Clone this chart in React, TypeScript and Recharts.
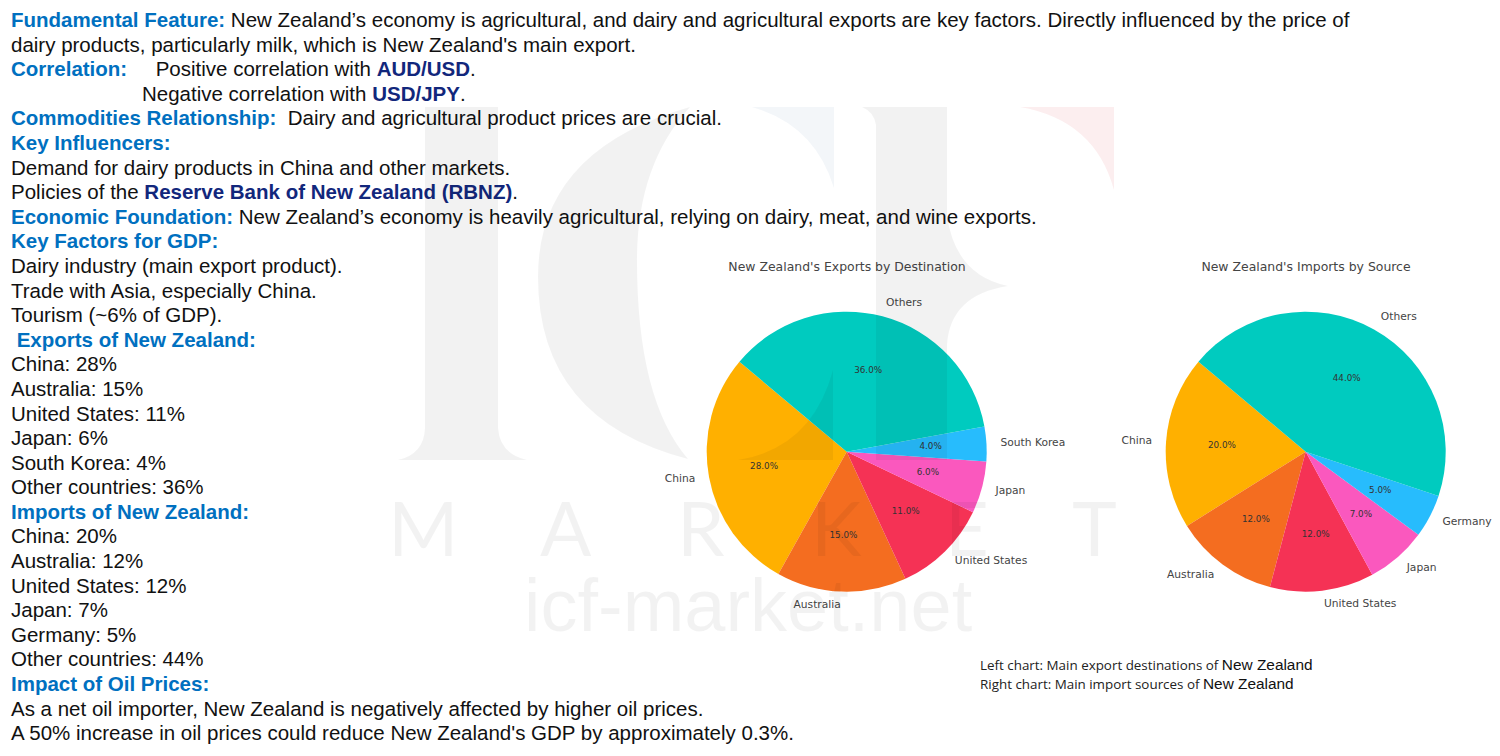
// New Zealand fundamentals slide: text block, two trade pies, watermark on top.
import { PieChart, Pie, Cell } from 'recharts';

const palette = ['#FFB000', '#F46D20', '#F53255', '#FA58BE', '#27BCFD', '#00CBBF'];

const exportNames = ['China', 'Australia', 'United States', 'Japan', 'South Korea', 'Others'];
const exportValues = [28, 15, 11, 6, 4, 36];
const importNames = ['China', 'Australia', 'United States', 'Japan', 'Germany', 'Others'];
const importValues = [20, 12, 12, 7, 5, 44];

const exportData = exportNames.map((name, i) => ({ name, value: exportValues[i] }));
const importData = importNames.map((name, i) => ({ name, value: importValues[i] }));

// h = blue heading, n = navy highlight, plain text otherwise
type Seg = { t: string; k?: 'h' | 'n' };
const lines: Seg[][] = [
  [{ t: 'Fundamental Feature:', k: 'h' }, { t: ' New Zealand’s economy is agricultural, and dairy and agricultural exports are key factors. Directly influenced by the price of' }],
  [{ t: "dairy products, particularly milk, which is New Zealand's main export." }],
  [{ t: 'Correlation:', k: 'h' }, { t: '     Positive correlation with ' }, { t: 'AUD/USD', k: 'n' }, { t: '.' }],
  [{ t: 'Negative correlation with ' }, { t: 'USD/JPY', k: 'n' }, { t: '.' }],
  [{ t: 'Commodities Relationship:', k: 'h' }, { t: '  Dairy and agricultural product prices are crucial.' }],
  [{ t: 'Key Influencers:', k: 'h' }],
  [{ t: 'Demand for dairy products in China and other markets.' }],
  [{ t: 'Policies of the ' }, { t: 'Reserve Bank of New Zealand (RBNZ)', k: 'n' }, { t: '.' }],
  [{ t: 'Economic Foundation:', k: 'h' }, { t: ' New Zealand’s economy is heavily agricultural, relying on dairy, meat, and wine exports.' }],
  [{ t: 'Key Factors for GDP:', k: 'h' }],
  [{ t: 'Dairy industry (main export product).' }],
  [{ t: 'Trade with Asia, especially China.' }],
  [{ t: 'Tourism (~6% of GDP).' }],
  [{ t: ' Exports of New Zealand:', k: 'h' }],
  [{ t: 'China: 28%' }],
  [{ t: 'Australia: 15%' }],
  [{ t: 'United States: 11%' }],
  [{ t: 'Japan: 6%' }],
  [{ t: 'South Korea: 4%' }],
  [{ t: 'Other countries: 36%' }],
  [{ t: 'Imports of New Zealand:', k: 'h' }],
  [{ t: 'China: 20%' }],
  [{ t: 'Australia: 12%' }],
  [{ t: 'United States: 12%' }],
  [{ t: 'Japan: 7%' }],
  [{ t: 'Germany: 5%' }],
  [{ t: 'Other countries: 44%' }],
  [{ t: 'Impact of Oil Prices:', k: 'h' }],
  [{ t: 'As a net oil importer, New Zealand is negatively affected by higher oil prices.' }],
  [{ t: "A 50% increase in oil prices could reduce New Zealand's GDP by approximately 0.3%." }],
];

const RAD = Math.PI / 180;
const chartFont = '"DejaVu Sans", sans-serif';

function renderLabel({ cx, cy, midAngle, outerRadius, percent, name }: any) {
  const cos = Math.cos(midAngle * RAD);
  const sin = Math.sin(midAngle * RAD);
  return (
    <g fontFamily={chartFont}>
      <text
        x={cx + outerRadius * 1.1 * cos}
        y={cy - outerRadius * 1.1 * sin - 0.7}
        textAnchor={cos >= 0 ? 'start' : 'end'}
        dominantBaseline="central"
        fontSize={10.7}
        fill="#444"
      >
        {name}
      </text>
      <text
        x={cx + outerRadius * 0.6 * cos}
        y={cy - outerRadius * 0.6 * sin - 0.7}
        textAnchor="middle"
        dominantBaseline="central"
        fontSize={8.8}
        fill="#333"
      >
        {(percent * 100).toFixed(1)}%
      </text>
    </g>
  );
}

function Watermark() {
  return (
    <svg
      width={1500}
      height={756}
      style={{ position: 'absolute', left: 0, top: 0, pointerEvents: 'none' }}
    >
      {/* the I, the C crescent and its two terminals, the F stem and arm */}
      <g fill="#000" fillOpacity={0.05}>
        <path d="M425 107 L498 107 L498 428 Q500 454 527 460 L398 460 Q424 454 425 428 Z" />
        <path d="M690 107 Q538 150 538 277 Q538 420 688 459 Q637 400 637 260 Q637 165 690 107 Z" />
        <path d="M833 370 L833 460 L738 460 Q812 448 833 370 Z" />
        <path d="M862 107 L947 107 L947 215 Q955 275 1008 286 Q950 295 947 345 L947 460 L876 460 L876 125 Q874 112 862 107 Z" />
      </g>
      <path d="M752 107 L834 107 L834 188 Q815 125 752 107 Z" fill="#0F4B87" fillOpacity={0.05} />
      <path d="M1020 107 L1114 107 L1114 190 Q1095 120 1020 107 Z" fill="#D40C1A" fillOpacity={0.07} />
      <g fontFamily="Lato, sans-serif" fontWeight={400} fontSize={76} fill="#000" fillOpacity={0.05}>
        <text x={388} y={556}>M</text>
        <text x={540} y={556}>A</text>
        <text x={677} y={556}>R</text>
        <text x={811} y={556}>K</text>
        <text x={945} y={556}>E</text>
        <text x={1072} y={556}>T</text>
      </g>
      <text x={524} y={631} fontFamily='"Liberation Sans", sans-serif' fontSize={74} fill="#000" fillOpacity={0.05}>
        icf-market.net
      </text>
    </svg>
  );
}

const titleStyle = {
  position: 'absolute',
  top: 259,
  width: 400,
  textAlign: 'center',
  fontFamily: chartFont,
  fontSize: 12.45,
  lineHeight: '16px',
  color: '#444',
} as const;

const noteStyle = {
  position: 'absolute',
  left: 980,
  whiteSpace: 'pre',
  fontFamily: '"Open Sans", sans-serif',
  fontSize: 13.4,
  lineHeight: '18px',
  color: '#222',
} as const;

const zealandStyle = { fontFamily: '"Liberation Sans", sans-serif', fontSize: 15.4, color: '#111' };

export default function App() {
  return (
    <div style={{ position: 'absolute', left: 0, top: 0, width: 1500, height: 756, overflow: 'hidden', background: '#fff' }}>
      <div style={{ position: 'absolute', left: 11, top: 8, fontFamily: '"Liberation Sans", Arial, sans-serif', fontSize: 20.5, lineHeight: '24.6px', color: '#111', whiteSpace: 'pre' }}>
        {lines.map((segs, i) => (
          <div key={i} style={{ paddingLeft: i === 3 ? 131 : 0, height: 24.6 }}>
            {segs.map((s, j) => (
              <span
                key={j}
                style={s.k ? { fontWeight: 700, color: s.k === 'h' ? '#0070C0' : '#12277C' } : undefined}
              >
                {s.t}
              </span>
            ))}
          </div>
        ))}
      </div>

      <div style={{ ...titleStyle, left: 647 }}>New Zealand's Exports by Destination</div>
      <div style={{ ...titleStyle, left: 1106 }}>New Zealand's Imports by Source</div>

      <div style={{ position: 'absolute', left: 0, top: 0 }}>
        <PieChart width={1500} height={756} margin={{ top: 0, right: 0, bottom: 0, left: 0 }}>
          <Pie
            data={exportData}
            dataKey="value"
            nameKey="name"
            cx={846.7}
            cy={451.7}
            outerRadius={140}
            startAngle={140}
            endAngle={500}
            stroke="none"
            label={renderLabel}
            labelLine={false}
            isAnimationActive={false}
          >
            {exportData.map((d, i) => (
              <Cell key={d.name} fill={palette[i]} />
            ))}
          </Pie>
          <Pie
            data={importData}
            dataKey="value"
            nameKey="name"
            cx={1305.7}
            cy={451.7}
            outerRadius={140}
            startAngle={140}
            endAngle={500}
            stroke="none"
            label={renderLabel}
            labelLine={false}
            isAnimationActive={false}
          >
            {importData.map((d, i) => (
              <Cell key={d.name} fill={palette[i]} />
            ))}
          </Pie>
        </PieChart>
      </div>

      <div style={{ ...noteStyle, top: 656 }}>
        Left chart: Main export destinations of <span style={zealandStyle}>New Zealand</span>
      </div>
      <div style={{ ...noteStyle, top: 675 }}>
        Right chart: Main import sources of <span style={zealandStyle}>New Zealand</span>
      </div>

      <Watermark />
    </div>
  );
}
